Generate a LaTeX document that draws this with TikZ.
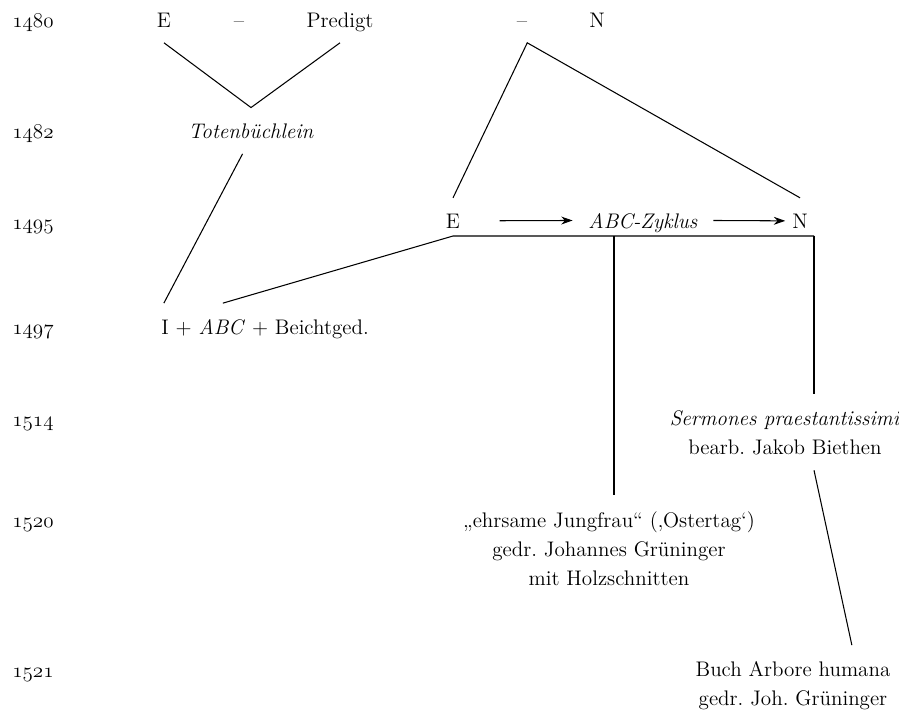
\documentclass[tikz,border=0pt]{standalone}
\usepackage{tikz}
\usetikzlibrary{arrows.meta, positioning, calc}

\newcommand{\yr}[1]{$\mathnormal{#1}$}

\begin{document}
\begin{tikzpicture}[
        x=0.02cm, y=-0.02cm,
        every node/.style={font=\fontsize{12}{16.5}\selectfont\frenchspacing},
        year/.style={anchor=base west, inner sep=0pt},
        word/.style={anchor=base, inner sep=0pt, outer sep=9pt, text depth=0pt},
        block/.style={anchor=base, inner sep=0pt, outer sep=9pt, align=center},
        line/.style={line width=0.6pt},
        flow/.style={-{Stealth[length=6.5pt,width=4.5pt]}, line width=0.6pt}
    ]
        \useasboundingbox (0,0) rectangle (899,711);

        % Years
        \node[year] (y1480) at (12,27) {\yr{1480}};
        \node[year] (y1482) at (12,138) {\yr{1482}};
        \node[year] (y1495) at (12,229) {\yr{1495}};
        \node[year] (y1497) at (12,334) {\yr{1497}};
        \node[year] (y1514) at (12,426) {\yr{1514}};
        \node[year] (y1520) at (12,527) {\yr{1520}};
        \node[year] (y1521) at (12,677) {\yr{1521}};

        % Nodes
        \node[word] (e1) at (164,27) {E};
        \node[word] (dash1) at (239,27) {--};
        \node[word] (pred) at (340,27) {Predigt};
        \node[word] (dash2) at (522,27) {--};
        \node[word] (n1) at (597,27) {N};
        \node[word] (tot) at (251,138) {\textit{Totenbüchlein}};
        \node[word] (e2) at (453,228) {E};
        \node[word] (abc) at (643,228) {\textit{ABC-Zyklus}};
        \node[word] (n2) at (800,228) {N};
        \node[word] (ia) at (265,334) {I + \textit{ABC} + Beichtged.};
        % blocks sit on the baseline of their last line
        \node[block] (serm) at (785,454) {\textit{Sermones praestantissimi}\\bearb. Jakob Biethen};
        \node[block] (ehr) at (609,585) {„ehrsame Jungfrau“ (‚Ostertag‘)\\gedr. Johannes Grüninger\\mit Holzschnitten};
        \node[block] (buch) at (793,705) {Buch Arbore humana\\gedr. Joh. Grüninger};

        \coordinate (barW) at (453,236);
        \coordinate (barM) at (614,236);
        \coordinate (barE) at (814,236);

        % Lines
        \draw[line] (e1.south) -- (tot.north) -- (pred.south);
        \draw[line] (tot.250) -- (ia.167);
        \draw[line] (e2.north) -- ([xshift=3pt]dash2.south) -- (n2.north);
        \draw[line] (ia.151) -- (barW) -- (barE);
        \draw[line] (barM) -- (barM |- ehr.north);
        \draw[line] (barE) -- (barE |- serm.north);
        \draw[line] (barE |- serm.south) -- ([xshift=33.5pt]buch.north);

        % Arrows
        \draw[flow, shorten <=13.5pt] (e2.east) -- (abc.west);
        \draw[flow, shorten >=-5pt] (abc.east) -- (n2.west);
    \end{tikzpicture}
\end{document}
